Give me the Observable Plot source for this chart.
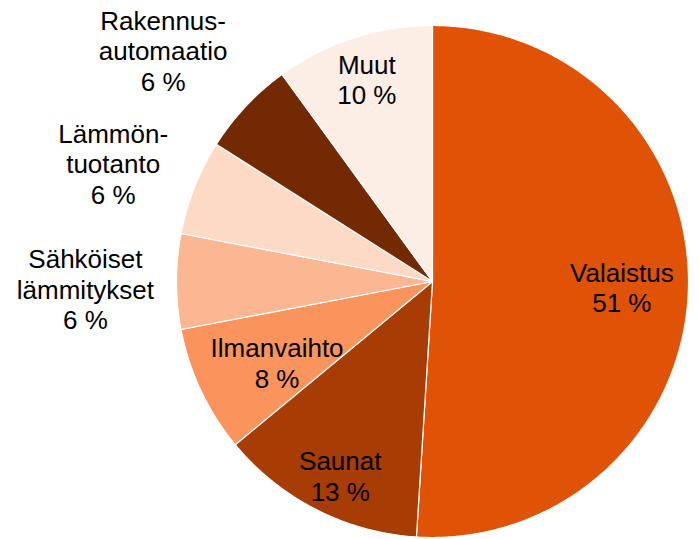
<!DOCTYPE html>
<html>
<head>
<meta charset="utf-8">
<script src="https://cdn.jsdelivr.net/npm/d3@7"></script>
<script src="https://cdn.jsdelivr.net/npm/@observablehq/plot@0.6"></script>
<style>
  html, body { margin: 0; padding: 0; background: #fff; }
</style>
</head>
<body>
<div id="chart"></div>
<script>
// Data (clockwise from 12 o'clock)
const categories = ["Valaistus", "Saunat", "Ilmanvaihto", "Sähköiset\nlämmitykset", "Lämmön-\ntuotanto", "Rakennus-\nautomaatio", "Muut"];
const shares = [51, 13, 8, 6, 6, 6, 10];
const colors = ["#E05206", "#A83C05", "#FB935D", "#FBB791", "#FDDAC6", "#732A03", "#FDEEE5"];

// Layout: label radius (fraction of pie radius) and angular nudge (degrees)
const labelRadius = [0.74, 0.84, 0.685, 1.356, 1.33, 1.386, 0.83];
const labelNudge = [0, -1.6, -2.4, -1.2, -1.3, -2.6, 0];

const total = d3.sum(shares);
const slices = [];
const labels = [];
let acc = 0;
categories.forEach((name, i) => {
  const a0 = acc / total * 2 * Math.PI;
  acc += shares[i];
  const a1 = acc / total * 2 * Math.PI;
  const n = Math.max(2, Math.ceil((a1 - a0) / (Math.PI / 360)));
  slices.push({name, x: 0, y: 0});
  for (let k = 0; k <= n; k++) {
    const a = a0 + (a1 - a0) * k / n;
    slices.push({name, x: Math.sin(a), y: Math.cos(a)});
  }
  const am = (a0 + a1) / 2 + labelNudge[i] * Math.PI / 180;
  labels.push({
    name,
    text: name + "\n" + shares[i] + " %",
    x: labelRadius[i] * Math.sin(am),
    y: labelRadius[i] * Math.cos(am)
  });
});

const cx = 432, cy = 281, R = 256;

const chart = Plot.plot({
  width: 699,
  height: 539,
  margin: 0,
  style: {background: "#fff", fontFamily: "'Liberation Sans', Arial, sans-serif"},
  x: {domain: [-1, 1], range: [cx - R, cx + R], axis: null},
  y: {domain: [-1, 1], range: [cy + R, cy - R], axis: null},
  color: {domain: categories, range: colors},
  marks: [
    Plot.line(slices, {
      x: "x", y: "y", z: "name",
      fill: "name",
      stroke: "#ffffff",
      strokeWidth: 1.2,
      curve: "linear-closed"
    }),
    Plot.text(labels, {
      x: "x", y: "y", text: "text",
      fontSize: 26,
      lineHeight: 1.17,
      fill: "#000",
      textAnchor: "middle",
      lineAnchor: "middle",
      fontFamily: "'Liberation Sans', Arial, sans-serif"
    })
  ]
});

document.getElementById("chart").appendChild(chart);
</script>
</body>
</html>
